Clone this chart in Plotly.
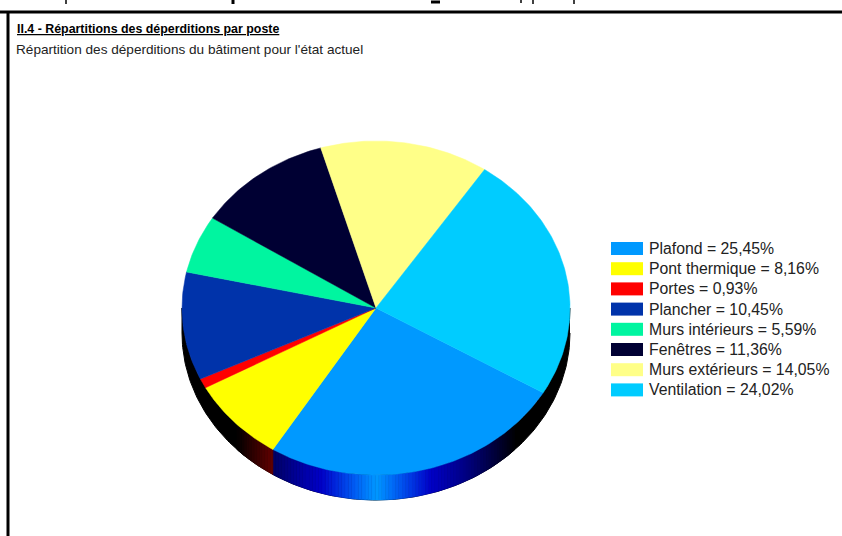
import numpy as np
import plotly.graph_objects as go

# ---- data ----
categories = ["Plafond", "Pont thermique", "Portes", "Plancher",
              "Murs intérieurs", "Fenêtres", "Murs extérieurs", "Ventilation"]
values = [25.45, 8.16, 0.93, 10.45, 5.59, 11.36, 14.05, 24.02]
value_labels = ["25,45", "8,16", "0,93", "10,45", "5,59", "11,36", "14,05", "24,02"]
colors = ["#0099FF", "#FFFF00", "#FF0000", "#0033AA",
          "#00F5A0", "#000033", "#FFFF88", "#00CCFF"]
title_text = "II.4 - Répartitions des déperditions par poste"
subtitle_text = "Répartition des déperditions du bâtiment pour l'état actuel"

# ---- geometry ----
CX, CY, RX, RY, DEPTH = 376, 308, 194, 167, 25
START = 30.5  # degrees clockwise from east
W, H = 842, 536


def rgb(c):
    return tuple(int(c[i:i + 2], 16) for i in (1, 3, 5))


def ex(t):
    return CX + RX * np.cos(np.radians(t))


def ey(t, dy=0):
    return CY + dy + RY * np.sin(np.radians(t))


def shade(c, t):
    d = abs(np.cos(np.radians(t))) * RX
    f_rb = max(0.0, 1 - (d / 140) ** 1.6)
    f_g = max(0.0, 1 - d / 55)
    r, g, b = rgb(c)
    return f"rgb({int(r * f_rb)},{int(g * f_g)},{int(b * f_rb)})"


total = sum(values)
angles = START + np.concatenate([[0], np.cumsum(values)]) / total * 360

fig = go.Figure()

# black side of the disc
t = np.linspace(0, 180, 181)
fig.add_trace(go.Scatter(
    x=np.r_[ex(t), ex(t[::-1])], y=np.r_[ey(t, DEPTH), ey(t[::-1])],
    mode="lines", fill="toself", fillcolor="#000000",
    line=dict(color="#000000", width=1), hoverinfo="skip", showlegend=False))

# lit strips of the side
for i, c in enumerate(colors):
    a0, a1 = max(angles[i], 0), min(angles[i + 1], 180)
    if a1 <= a0:
        continue
    n = max(1, int(np.ceil(a1 - a0)))
    edges = np.linspace(a0, a1, n + 1)
    for s0, s1 in zip(edges[:-1], edges[1:]):
        mid = (s0 + s1) / 2
        col = shade(c, mid)
        if col == "rgb(0,0,0)":
            continue
        fig.add_trace(go.Scatter(
            x=[ex(s0), ex(s1), ex(s1), ex(s0), ex(s0)],
            y=[ey(s0), ey(s1), ey(s1, DEPTH), ey(s0, DEPTH), ey(s0)],
            mode="lines", fill="toself", fillcolor=col,
            line=dict(color=col, width=0.6), hoverinfo="skip", showlegend=False))

# top face
for i, (name, v, lab, c) in enumerate(zip(categories, values, value_labels, colors)):
    t = np.linspace(angles[i], angles[i + 1], max(3, int(v * 3.6) + 2))
    fig.add_trace(go.Scatter(
        x=np.r_[CX, ex(t), CX], y=np.r_[CY, ey(t), CY],
        mode="lines", fill="toself", fillcolor=c,
        line=dict(color=c, width=0.5), name=f"{name} = {lab}%",
        hoveron="fills", showlegend=False))

shapes = [
    dict(type="line", x0=0, x1=W, y0=12, y1=12, line=dict(color="#000000", width=3)),
    dict(type="line", x0=8, x1=8, y0=11, y1=H, line=dict(color="#000000", width=3)),
]
# clipped descenders of the line of text above the frame
for x, w, y1 in [(66, 1.5, 4), (233, 3, 4), (521, 1.5, 3), (533, 1.5, 4), (574, 1.5, 4)]:
    shapes.append(dict(type="line", x0=x, x1=x, y0=0, y1=y1, line=dict(color="#000000", width=w)))
shapes.append(dict(type="line", x0=431, x1=440, y0=2, y1=2, line=dict(color="#000000", width=3)))

annotations = [
    dict(x=15, y=29, text=f"<u><b>{title_text}</b></u>", xanchor="left", yanchor="middle",
         showarrow=False, font=dict(family="Liberation Sans", size=12.4, color="#000000")),
    dict(x=14, y=49, text=subtitle_text, xanchor="left", yanchor="middle",
         showarrow=False, font=dict(family="Liberation Sans", size=13.6, color="#222222")),
]
for i, (name, lab, c) in enumerate(zip(categories, value_labels, colors)):
    yc = 248.5 + i * 20.2
    shapes.append(dict(type="rect", x0=611, x1=643, y0=yc - 6.5, y1=yc + 6.5,
                       fillcolor=c, line=dict(width=0)))
    annotations.append(dict(x=647, y=yc, text=f"{name} = {lab}%", xanchor="left", yanchor="middle",
                            showarrow=False,
                            font=dict(family="Liberation Sans", size=15.8, color="#222222")))

fig.update_layout(
    width=W, height=H, margin=dict(l=0, r=0, t=0, b=0),
    paper_bgcolor="#FFFFFF", plot_bgcolor="#FFFFFF", showlegend=False,
    xaxis=dict(range=[0, W], visible=False, fixedrange=True),
    yaxis=dict(range=[H, 0], visible=False, fixedrange=True),
    shapes=shapes, annotations=annotations,
)
fig.write_html("out.html", config=dict(displayModeBar=False),
               post_script="document.body.style.margin='0';document.body.style.overflow='hidden';")
